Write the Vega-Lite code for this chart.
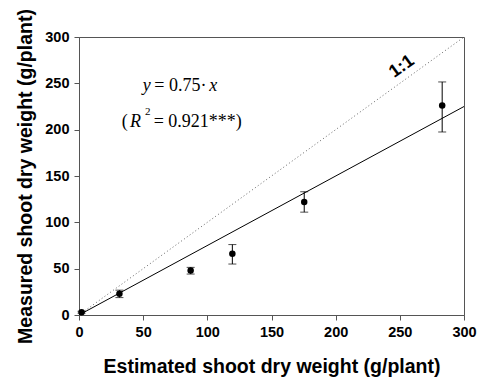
{
  "$schema": "https://vega.github.io/schema/vega-lite/v6.json",
  "width": 385,
  "height": 278,
  "autosize": "none",
  "padding": {"left": 79, "top": 37, "right": 22, "bottom": 70},
  "background": "white",
  "config": {
    "view": {"stroke": "#555555", "strokeWidth": 1},
    "axis": {
      "grid": false,
      "labelFlush": false,
      "domainColor": "#555555",
      "tickColor": "#555555",
      "tickSize": 5,
      "labelFont": "Liberation Sans",
      "labelFontWeight": "bold",
      "labelFontSize": 14.5,
      "labelColor": "black",
      "titleFont": "Liberation Sans",
      "titleFontWeight": "bold",
      "titleFontSize": 19.5,
      "titleColor": "black"
    }
  },
  "datasets": {
    "points": [
      {"est": 2, "meas": 3, "lo": 2, "hi": 4},
      {"est": 31.5, "meas": 23, "lo": 18.8, "hi": 26.8},
      {"est": 87, "meas": 48, "lo": 44.2, "hi": 51.4},
      {"est": 119.5, "meas": 66, "lo": 55, "hi": 76},
      {"est": 175.5, "meas": 122, "lo": 111, "hi": 133},
      {"est": 283, "meas": 226, "lo": 197.5, "hi": 251.5}
    ],
    "oneone": [{"x": 0, "y": 0}, {"x": 300, "y": 300}],
    "fit": [{"x": 0, "y": 0}, {"x": 300, "y": 225}],
    "eqItalic": [
      {"x": 49.6, "y": 242, "label": "y"},
      {"x": 101.5, "y": 242, "label": "x"},
      {"x": 39.7, "y": 203.2, "label": "R"}
    ],
    "eqNormal": [
      {"x": 58.7, "y": 242, "label": "= 0.75·"},
      {"x": 33.3, "y": 203.2, "label": "("},
      {"x": 58.2, "y": 203.2, "label": "= 0.921***)"}
    ],
    "eqSup": [
      {"x": 51.4, "y": 215.8, "label": "2"}
    ],
    "lab11": [{"x": 251.5, "y": 268, "label": "1:1"}]
  },
  "layer": [
    {
      "data": {"name": "oneone"},
      "mark": {"type": "line", "color": "#666666", "strokeWidth": 1, "strokeDash": [1, 2.5], "clip": true},
      "encoding": {
        "x": {"field": "x", "type": "quantitative", "scale": {"domain": [0, 300], "nice": false},
              "title": "Estimated shoot dry weight (g/plant)",
              "axis": {"values": [0, 50, 100, 150, 200, 250, 300], "labelPadding": 5, "titlePadding": 19}},
        "y": {"field": "y", "type": "quantitative", "scale": {"domain": [0, 300], "nice": false},
              "title": "Measured shoot dry weight (g/plant)",
              "axis": {"values": [0, 50, 100, 150, 200, 250, 300], "labelPadding": 5, "titlePadding": 9}}
      }
    },
    {
      "data": {"name": "fit"},
      "mark": {"type": "line", "color": "black", "strokeWidth": 1, "clip": true},
      "encoding": {
        "x": {"field": "x", "type": "quantitative", "title": "Estimated shoot dry weight (g/plant)"},
        "y": {"field": "y", "type": "quantitative", "title": "Measured shoot dry weight (g/plant)"}
      }
    },
    {
      "data": {"name": "points"},
      "mark": {"type": "errorbar", "ticks": {"size": 8, "color": "black"}, "rule": {"color": "black", "strokeWidth": 1}},
      "encoding": {
        "x": {"field": "est", "type": "quantitative", "title": "Estimated shoot dry weight (g/plant)"},
        "y": {"field": "lo", "type": "quantitative", "title": "Measured shoot dry weight (g/plant)"},
        "y2": {"field": "hi"}
      }
    },
    {
      "data": {"name": "points"},
      "mark": {"type": "point", "filled": true, "color": "black", "opacity": 1, "size": 42},
      "encoding": {
        "x": {"field": "est", "type": "quantitative", "title": "Estimated shoot dry weight (g/plant)"},
        "y": {"field": "meas", "type": "quantitative", "title": "Measured shoot dry weight (g/plant)"}
      }
    },
    {
      "data": {"name": "eqItalic"},
      "mark": {"type": "text", "font": "Liberation Serif", "fontStyle": "italic", "fontSize": 18, "color": "black", "align": "left", "baseline": "alphabetic"},
      "encoding": {
        "x": {"field": "x", "type": "quantitative"},
        "y": {"field": "y", "type": "quantitative"},
        "text": {"field": "label"}
      }
    },
    {
      "data": {"name": "eqNormal"},
      "mark": {"type": "text", "font": "Liberation Serif", "fontSize": 18, "color": "black", "align": "left", "baseline": "alphabetic"},
      "encoding": {
        "x": {"field": "x", "type": "quantitative"},
        "y": {"field": "y", "type": "quantitative"},
        "text": {"field": "label"}
      }
    },
    {
      "data": {"name": "eqSup"},
      "mark": {"type": "text", "font": "Liberation Serif", "fontSize": 11, "color": "black", "align": "left", "baseline": "alphabetic"},
      "encoding": {
        "x": {"field": "x", "type": "quantitative"},
        "y": {"field": "y", "type": "quantitative"},
        "text": {"field": "label"}
      }
    },
    {
      "data": {"name": "lab11"},
      "mark": {"type": "text", "font": "Liberation Sans", "fontWeight": "bold", "fontSize": 18, "angle": 324, "color": "black"},
      "encoding": {
        "x": {"field": "x", "type": "quantitative"},
        "y": {"field": "y", "type": "quantitative"},
        "text": {"field": "label"}
      }
    }
  ]
}
